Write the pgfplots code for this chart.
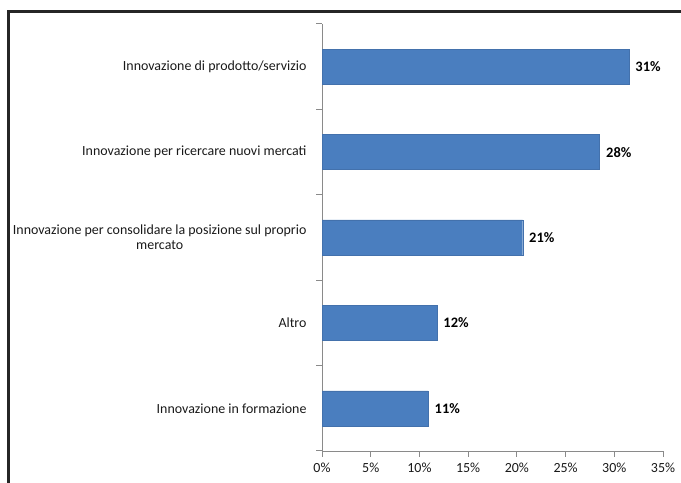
\documentclass[border=0pt]{standalone}
\usepackage{pgfplots}
\pgfplotsset{compat=1.18}
\usepackage{fontspec}
\setmainfont{Carlito}
\definecolor{barblue}{HTML}{4A7EBF}
\definecolor{axgray}{HTML}{8A8A8A}

\begin{document}
\begin{tikzpicture}[x=1bp,y=1bp]
\path[use as bounding box] (0,0) rectangle (681,483);
\draw[line width=3bp, black!85] (8.5,0) -- (8.5,471) -- (681,471);
\begin{axis}[
    at={(322bp,32bp)}, anchor=south west,
    scale only axis,
    width=341bp, height=427bp,
    xbar,
    bar width=35bp,
    xmin=0, xmax=35,
    ymin=-0.5, ymax=4.5,
    xtick={0,5,...,35},
    xticklabel={\pgfmathprintnumber{\tick}\%},
    ytick={-0.5,0.5,...,4.5},
    y tick label as interval,
    yticklabels={Innovazione in formazione, Altro,
        {Innovazione per consolidare la posizione sul proprio\\mercato},
        Innovazione per ricercare nuovi mercati,
        Innovazione di prodotto/servizio},
    axis x line*=bottom,
    axis y line*=left,
    axis line style={axgray, line width=0.9pt},
    tick align=outside,
    tick style={draw=axgray, line width=1pt},
    major tick length=6bp,
    /pgf/number format/assume math mode=true,
    tick label style={font=\fontsize{14}{15}\selectfont, black!90},
    yticklabel style={align=center, xshift=-6bp},
    xticklabel style={yshift=-2bp},
    point meta=explicit symbolic,
    nodes near coords,
    nodes near coords style={font=\fontsize{14.5}{16}\selectfont\bfseries, black, anchor=west, xshift=3bp},
    clip=false,
]
\addplot[fill=barblue, draw=barblue!90!black, line width=0.4pt] coordinates {
    (10.9,0) [11\%]
    (11.8,1) [12\%]
    (20.6,2) [21\%]
    (28.5,3) [28\%]
    (31.5,4) [31\%]
};
\end{axis}
% second axis on the same frame, only for the tick marks of the x axis
\begin{axis}[
    at={(322bp,32bp)}, anchor=south west,
    scale only axis,
    width=341bp, height=427bp,
    xmin=0, xmax=35, ymin=0, ymax=1,
    axis x line*=bottom,
    hide y axis,
    axis line style={axgray, line width=0.9pt},
    xtick={0,5,...,35},
    xticklabels={},
    tick align=outside,
    tick style={draw=axgray, line width=1pt},
    major tick length=6bp,
]
\addplot[draw=none] coordinates {(0,0)};
\end{axis}
\end{tikzpicture}
\end{document}
